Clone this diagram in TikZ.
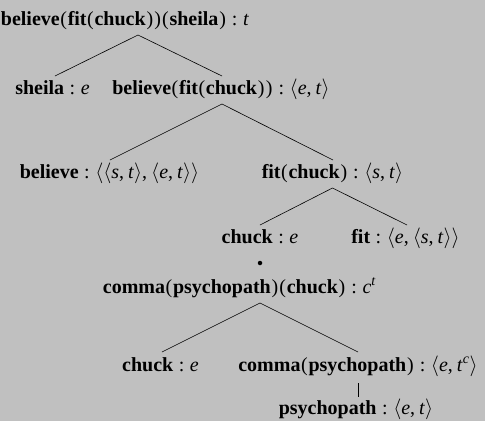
\documentclass[tikz,border=0pt]{standalone}
\usepackage{fontspec}
\setmainfont{Liberation Serif}
\definecolor{bg}{RGB}{192,192,192}
\newcommand{\w}[1]{\textbf{#1}}
\newcommand{\ty}[1]{\textit{#1}}
\newcommand{\of}{\;:\;}
\newcommand{\lp}{\kern0.5pt(\kern0.8pt}
\newcommand{\rp}{\kern0.8pt)\kern0.5pt}
\newcommand{\la}{$\langle$}
\newcommand{\ra}{$\rangle$}
\newcommand{\cm}{,\kern4pt}
\begin{document}
\begin{tikzpicture}[x=1pt,y=-1pt,
  lbl/.style={inner sep=0pt, anchor=base, font=\fontsize{20}{23}\selectfont},
  edge/.style={line width=0.6pt, black}]
\fill[bg] (0,0) rectangle (485,421);
\useasboundingbox (0,0) rectangle (485,421);

% tree labels
\node[lbl] (root) at (125,25) {\w{believe}\lp\w{fit}\lp\w{chuck}\rp\rp\lp\w{sheila}\rp\of\ty{t}};
\node[lbl] (sheila) at (52.5,94) {\w{sheila}\of\ty{e}};
\node[lbl] (bff) at (221,94) {\w{believe}\lp\w{fit}\lp\w{chuck}\rp\rp\of\la\ty{e}\cm\ty{t}\ra};
\node[lbl] (believe) at (109.5,178) {\w{believe}\of\la\la\ty{s}\cm\ty{t}\ra\cm\la\ty{e}\cm\ty{t}\ra\ra};
\node[lbl] (fitchuck) at (332.5,178) {\w{fit}\lp\w{chuck}\rp\of\la\ty{s}\cm\ty{t}\ra};
\node[lbl] (chucka) at (260,243) {\w{chuck}\of\ty{e}};
\node[lbl] (fit) at (405.5,243) {\w{fit}\of\la\ty{e}\cm\la\ty{s}\cm\ty{t}\ra\ra};
\node[circle, fill=black, inner sep=0pt, minimum size=4.5pt] (dot) at (260,263) {};
\node[lbl] (cpc) at (239.5,293) {\w{comma}\lp\w{psychopath}\rp\lp\w{chuck}\rp\of\ty{c}\textsuperscript{\ty{t}}};
\node[lbl] (chuckb) at (160.5,371) {\w{chuck}\of\ty{e}};
\node[lbl] (comma) at (358,371) {\w{comma}\lp\w{psychopath}\rp\of\la\ty{e}\cm\ty{t}\textsuperscript{\ty{c}}\ra};
\node[lbl] (psycho) at (356,414) {\w{psychopath}\of\la\ty{e}\cm\ty{t}\ra};

% branches
\draw[edge] ([xshift=13pt,yshift=-10pt]root.base) -- ([xshift=2.5pt,yshift=18pt]sheila.base);
\draw[edge] ([xshift=13pt,yshift=-10pt]root.base) -- ([xshift=1pt,yshift=18pt]bff.base);
\draw[edge] ([xshift=1pt,yshift=-10pt]bff.base) -- ([xshift=0.5pt,yshift=18pt]believe.base);
\draw[edge] ([xshift=1pt,yshift=-10pt]bff.base) -- ([xshift=0.5pt,yshift=18pt]fitchuck.base);
\draw[edge] ([yshift=-10pt]fitchuck.base) -- ([yshift=18pt]chucka.base);
\draw[edge] ([yshift=-10pt]fitchuck.base) -- ([xshift=1.5pt,yshift=18pt]fit.base);
\draw[edge] ([xshift=20.5pt,yshift=-10pt]cpc.base) -- ([xshift=1.5pt,yshift=19pt]chuckb.base);
\draw[edge] ([xshift=20.5pt,yshift=-10pt]cpc.base) -- ([yshift=19pt]comma.base);
\draw[edge] ([yshift=-12pt]comma.base) -- ([xshift=2pt,yshift=17pt]psycho.base);
\end{tikzpicture}
\end{document}
